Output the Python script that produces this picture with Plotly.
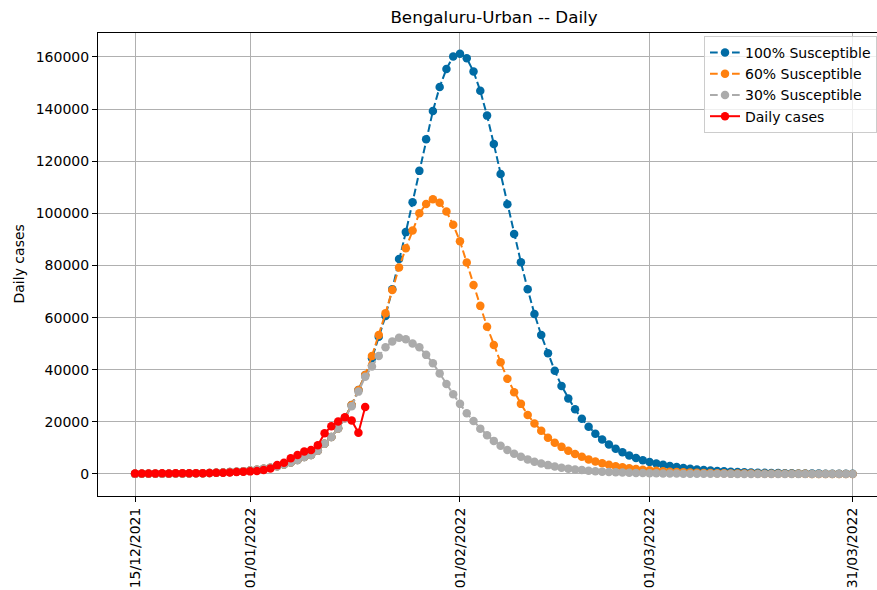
import pandas as pd
import plotly.graph_objects as go

start_date = "2021-12-15"
n_days = 107

tick_dates = ["2021-12-15", "2022-01-01", "2022-02-01", "2022-03-01", "2022-03-31"]
tick_labels = ["15/12/2021", "01/01/2022", "01/02/2022", "01/03/2022", "31/03/2022"]

sus100 = [42, 52, 63, 77, 94, 115, 140, 170, 210, 260, 320, 390, 480, 590, 720, 880,
          1070, 1300, 1600, 1970, 2400, 2950, 3600, 4400, 5400, 6500, 7300, 8900, 11600,
          14200, 17500, 21500, 26500, 32200, 38000, 44400, 52700, 60600, 70900, 82500,
          92800, 104300, 116300, 128400, 139300, 148500, 155400, 160200, 161200, 159500,
          154400, 147000, 137500, 126600, 115100, 103500, 92100, 81200, 70900, 61400,
          53300, 46300, 39600, 33800, 29000, 24800, 21200, 18100, 15400, 13200, 11300,
          9700, 8300, 7100, 6100, 5300, 4600, 4000, 3500, 3050, 2650, 2300, 2000, 1750,
          1520, 1320, 1150, 1000, 870, 760, 660, 570, 500, 435, 380, 330, 290, 250, 220,
          190, 165, 145, 125, 110, 95, 83, 72]

sus60 = [42, 52, 63, 77, 94, 115, 140, 170, 210, 260, 320, 390, 480, 590, 720, 880,
         1070, 1300, 1600, 1970, 2400, 2950, 3600, 4400, 5400, 6500, 7300, 8900, 11600,
         14200, 17500, 21500, 26500, 32200, 38000, 45300, 53300, 61700, 70600, 79200,
         86600, 93400, 100000, 103600, 105400, 104100, 100700, 95600, 89300, 81100,
         72500, 64500, 56500, 49500, 42900, 36500, 31400, 26900, 22600, 19400, 16600,
         13900, 12000, 10400, 8900, 7700, 6600, 5600, 4800, 4100, 3500, 3000, 2600, 2200,
         1900, 1600, 1400, 1200, 1000, 870, 750, 640, 550, 470, 400, 350, 300, 260, 220,
         190, 160, 140, 120, 100, 88, 75, 65, 56, 48, 41, 35, 30, 26, 22, 19, 16, 14]

sus30 = [42, 52, 63, 77, 94, 115, 140, 170, 210, 260, 320, 390, 480, 590, 720, 880,
         1070, 1300, 1600, 1970, 2400, 2950, 3600, 4400, 5400, 6500, 7300, 8900, 11600,
         14200, 17500, 21300, 26000, 31600, 37300, 41200, 45300, 48600, 50800, 52300,
         51700, 50100, 48600, 45700, 42500, 38600, 34500, 30600, 26900, 23300, 20300,
         17400, 14900, 12700, 10800, 9200, 7800, 6600, 5600, 4700, 4000, 3400, 2900, 2400,
         2050, 1750, 1500, 1250, 1060, 900, 770, 650, 550, 470, 400, 340, 290, 245, 210,
         178, 150, 128, 109, 93, 79, 67, 57, 48, 41, 35, 30, 25, 21, 18, 15, 13, 11, 9,
         8, 7, 6, 5, 4, 4, 3, 3, 2]

daily_cases = [200, 220, 190, 230, 250, 210, 260, 240, 280, 250, 320, 380, 440, 500,
               600, 800, 900, 1000, 1100, 1500, 2100, 3400, 4300, 6000, 7300, 8600, 9200,
               11000, 15600, 18300, 20100, 21800, 20500, 15800, 25700]

dates = pd.date_range(start_date, periods=n_days)
case_dates = dates[:len(daily_cases)]

t0 = pd.Timestamp(start_date)
x_lo = (t0 + pd.Timedelta(days=-5.47)).strftime("%Y-%m-%d %H:%M:%S")
x_hi = (t0 + pd.Timedelta(days=109.6)).strftime("%Y-%m-%d %H:%M:%S")

FONT = "DejaVu Sans"
dash = "7.7px,3.3px"
fig = go.Figure()
series = [("100% Susceptible", sus100, "#006BA4"),
          ("60% Susceptible", sus60, "#FF800E"),
          ("30% Susceptible", sus30, "#ABABAB")]
for name, vals, col in series:
    fig.add_trace(go.Scatter(x=dates, y=vals, name=name, mode="lines+markers",
                             line=dict(color=col, width=2, dash=dash),
                             marker=dict(color=col, size=8.5, symbol="circle")))
fig.add_trace(go.Scatter(x=case_dates, y=daily_cases, name="Daily cases",
                         mode="lines+markers",
                         line=dict(color="#FF0000", width=2),
                         marker=dict(color="#FF0000", size=8.5, symbol="circle")))

fig.update_layout(
    width=877, height=590,
    margin=dict(l=98, r=0, t=33, b=94, pad=0, autoexpand=False),
    plot_bgcolor="white", paper_bgcolor="white",
    font=dict(family=FONT, size=14, color="black"),
    title=dict(text="Bengaluru-Urban -- Daily", x=(494 - 98) / 779, xref="paper",
               xanchor="center", y=1 - 17 / 590, yref="container", yanchor="middle",
               font=dict(family=FONT, size=16.7, color="black")),
    showlegend=True,
    legend=dict(x=1, xanchor="right", y=1 - (36 - 33) / 463, yanchor="top",
                bgcolor="rgba(255,255,255,0.8)", bordercolor="#cccccc", borderwidth=1,
                font=dict(family=FONT, size=14, color="black")),
    annotations=[dict(text="Daily cases", xref="paper", yref="paper",
                      x=(18 - 98) / 779, y=0.5, xanchor="center", yanchor="middle",
                      textangle=-90, showarrow=False,
                      font=dict(family=FONT, size=14, color="black"))],
)
fig.update_xaxes(type="date", range=[x_lo, x_hi], tickvals=list(pd.to_datetime(tick_dates)),
                 ticktext=tick_labels, tickangle=-90, showgrid=True, gridcolor="#b0b0b0",
                 gridwidth=1.1, showline=True, linecolor="black", linewidth=1.1, mirror=True,
                 ticks="outside", ticklen=5, tickwidth=1.1, tickcolor="black",
                 zeroline=False, automargin=False,
                 tickfont=dict(family=FONT, size=14, color="black"))
fig.update_yaxes(range=[-8450, 169200], tickvals=[0, 20000, 40000, 60000, 80000, 100000,
                                                  120000, 140000, 160000],
                 ticktext=["0", "20000", "40000", "60000", "80000", "100000", "120000",
                           "140000", "160000"],
                 showgrid=True, gridcolor="#b0b0b0", gridwidth=1.1, showline=True,
                 linecolor="black", linewidth=1.1, mirror=False, ticks="outside",
                 ticklen=5, tickwidth=1.1, tickcolor="black", zeroline=False,
                 automargin=False,
                 tickfont=dict(family=FONT, size=14, color="black"))

fig.write_html("out.html", config={"displayModeBar": False},
               post_script="document.body.style.margin='0';"
                           "document.body.style.overflow='hidden';")
